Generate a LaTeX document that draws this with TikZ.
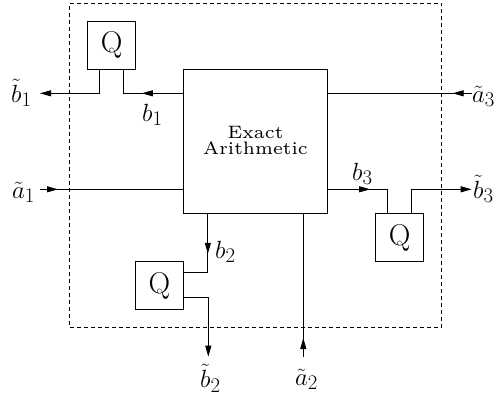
\documentclass[tikz,border=0pt]{standalone}
\usetikzlibrary{arrows.meta,decorations.markings,calc}
\begin{document}
\begin{tikzpicture}[x=1pt,y=-1pt,
  box/.style={draw,line width=0.9pt,inner sep=0pt},
  qbox/.style={box,minimum width=48pt,minimum height=48pt,font=\fontsize{30}{32}\selectfont},
  wire/.style={line width=0.8pt},
  lbl/.style={font=\fontsize{28}{32}\selectfont,inner sep=0pt,anchor=base west},
  txt/.style={inner sep=0pt,anchor=base},
  >={Triangle[length=11pt,width=6pt]},
  arrowat/.style={postaction={decorate},decoration={markings,mark=at position #1 with {\arrow{>}}}}]
\useasboundingbox (0,0) rectangle (501,397);
\node[draw,dash pattern=on 4pt off 3pt,line width=0.6pt,inner sep=0pt,minimum width=372.2pt,minimum height=323.7pt] (frame) at (255.6,165.15) {};
\node[box,minimum width=144.4pt,minimum height=144pt] (main) at (255.5,141.3) {};
\node[txt] (ex) at (255.5,138.7) {\scalebox{3}{\fontsize{6}{7}\selectfont Exact}};
\node[txt] (ar) at (255.5,154.7) {\scalebox{3}{\fontsize{6}{7}\selectfont Arithmetic}};
\node[qbox] (q1) at (111.7,45.3) {Q};
\node[qbox] (q3) at (399.7,237.5) {Q};
\node[qbox] (q2) at (159.5,285.5) {Q};
\coordinate (tb1) at (40,93.3);
\coordinate (ta1) at (40,189.3);
\coordinate (ta3) at (471.7,93.3);
\coordinate (tb3) at (471.7,189.3);
\coordinate (tb2) at (208.3,356.7);
\coordinate (ta2) at (303.3,357);
\draw[wire,arrowat=41pt] (main.west |- tb1) -| ($(q1.south)+(12,0)$);
\draw[wire,->] ($(q1.south)+(-12,0)$) |- (tb1);
\draw[wire,arrowat=18pt] (ta1) -- (main.west |- ta1);
\draw[wire,arrowat=19pt] (ta3) -- (main.east |- ta3);
\draw[wire,arrowat=42pt] (main.east |- tb3) -| ($(q3.north)+(-12,0)$);
\draw[wire,->] ($(q3.north)+(12,0)$) |- (tb3);
\draw[wire,arrowat=40pt] ($(main.south west)+(25,0)$) |- ($(q2.east)+(0,-12.8)$);
\draw[wire,->] ($(q2.east)+(0,11.8)$) -| (tb2);
\draw[wire,arrowat=19pt] (ta2) -- (main.south -| ta2);
\node[lbl] (lb1t) at (11,102) {$\tilde b_1$};
\node[lbl] (lb1) at (142,121) {$b_1$};
\node[lbl] (la1) at (12,198) {$\tilde a_1$};
\node[lbl] (la3) at (472,102) {$\tilde a_3$};
\node[lbl] (lb3) at (352,180) {$b_3$};
\node[lbl] (lb3t) at (473,198) {$\tilde b_3$};
\node[lbl] (lb2) at (215,258) {$b_2$};
\node[lbl] (lb2t) at (200,387.5) {$\tilde b_2$};
\node[lbl] (la2) at (295,385) {$\tilde a_2$};
\end{tikzpicture}
\end{document}
